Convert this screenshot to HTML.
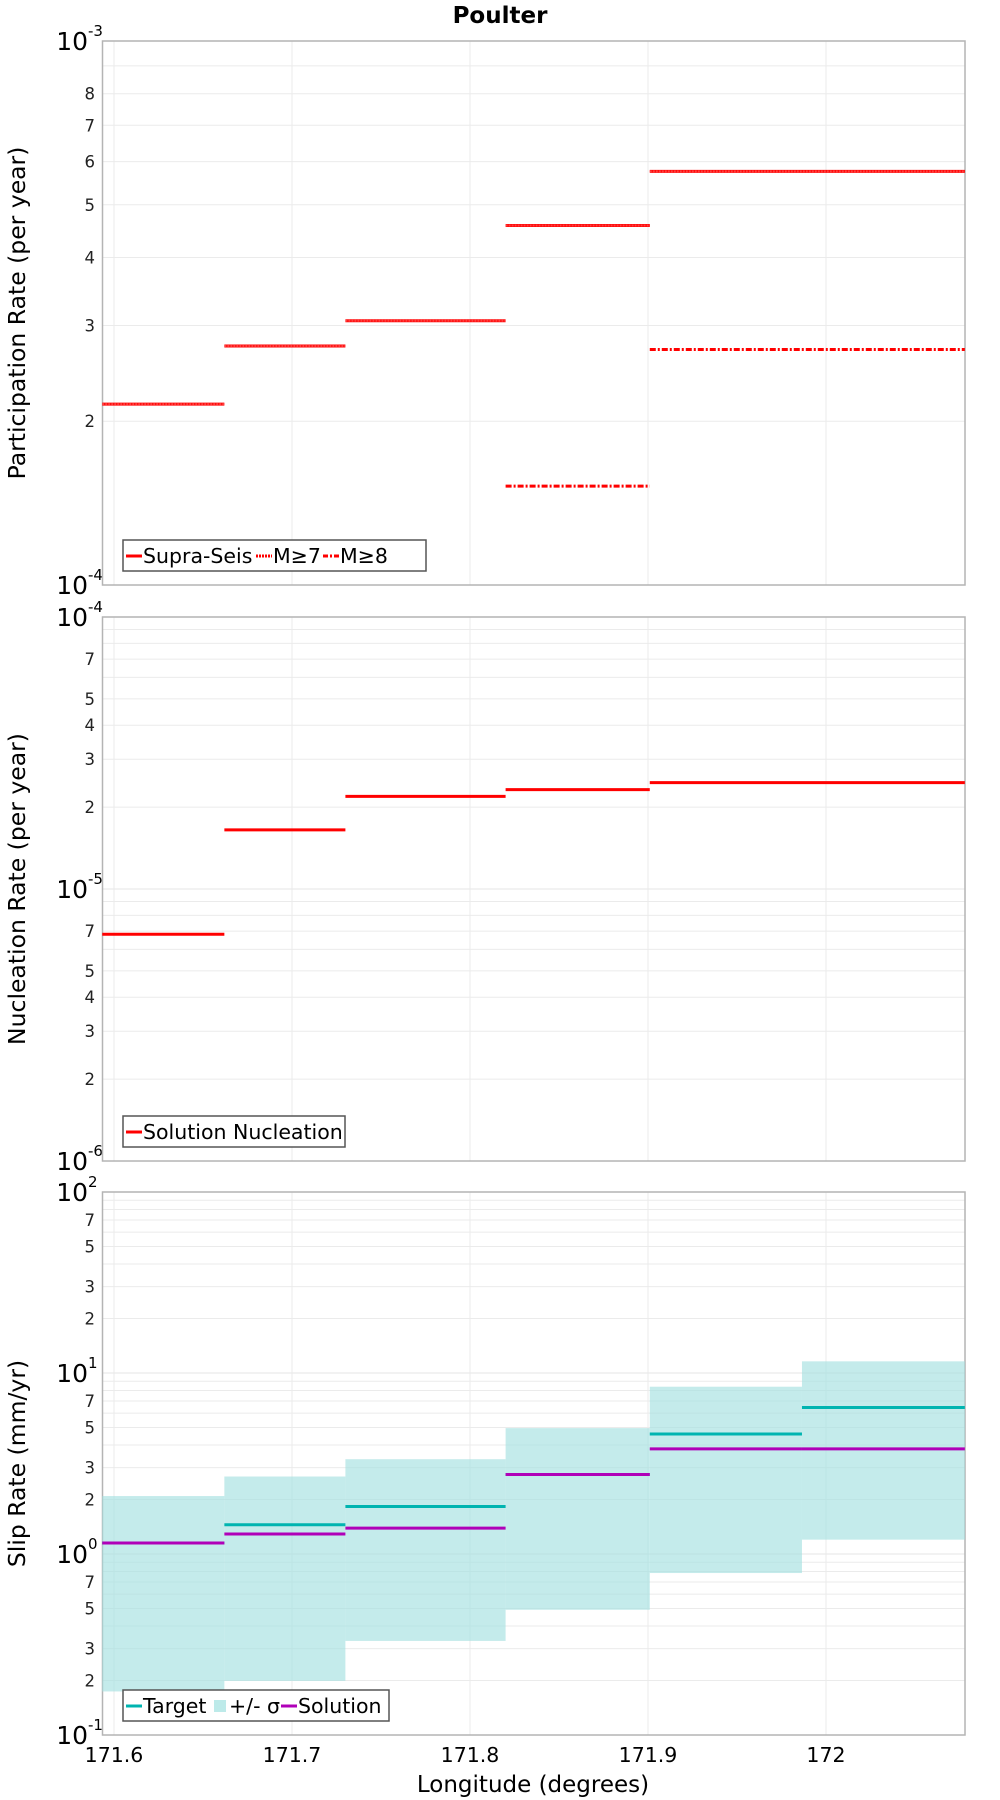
<!DOCTYPE html>
<html><head><meta charset="utf-8"><style>
body{margin:0;background:#fff}
svg{display:block;font-family:"DejaVu Sans","Liberation Sans",sans-serif}
</style></head><body>
<svg id="chart" width="1000" height="1800" viewBox="0 0 1000 1800" xmlns="http://www.w3.org/2000/svg">
<text x="500" y="23" text-anchor="middle" font-size="23" font-weight="bold">Poulter</text>
</svg>
<script>
// ---- data ----
const xEdges = [171.5934, 171.662, 171.730, 171.820, 171.901, 172.078];
const slipEdges = [171.5934, 171.662, 171.730, 171.820, 171.901, 171.9865, 172.078];
const supraSeis = [2.15e-4, 2.75e-4, 3.06e-4, 4.58e-4, 5.76e-4];
const m7 = [2.15e-4, 2.75e-4, 3.06e-4, 4.58e-4, 5.76e-4];
const m8 = [null, null, null, 1.52e-4, 2.71e-4];
const nucleation = [6.82e-6, 1.65e-5, 2.19e-5, 2.32e-5, 2.46e-5];
const slipTarget = [1.15, 1.45, 1.83, 2.75, 4.6, 6.45];
const slipSolution = [1.15, 1.29, 1.39, 2.75, 3.81, 3.81];
const sigmaUpper = [2.09, 2.68, 3.34, 4.96, 8.4, 11.6];
const sigmaLower = [0.174, 0.199, 0.331, 0.492, 0.785, 1.2];
const xTicks = [171.6, 171.7, 171.8, 171.9, 172];
const xTickLabels = ["171.6", "171.7", "171.8", "171.9", "172"];

const NS = "http://www.w3.org/2000/svg";
const svg = document.getElementById('chart');
const L = 102.5, R = 965;
const X0 = 171.6, XPX0 = 114, PXPER = 1780;
function xs(v){ return XPX0 + (v - X0) * PXPER; }
function el(tag, attrs, parent){ const e = document.createElementNS(NS, tag); for (const k in attrs) e.setAttribute(k, attrs[k]); (parent||svg).appendChild(e); return e; }

function panel(top, bottom, eMin, eMax, labelDigits, title, name){
  const g = el('g', {});
  
  
  const ys = v => bottom - (Math.log10(v) - eMin) / (eMax - eMin) * (bottom - top);
  for (let e = eMin; e < eMax; e++) {
    for (let m = 2; m <= 9; m++) {
      const y = ys(m * Math.pow(10, e));
      const gl = el('line', {x1:L, x2:R, y1:y, y2:y, stroke:'#ebebeb', 'stroke-width':1}, g);
      
      
      if (labelDigits.includes(m)) {
        const t = el('text', {x:95, y:y+6, 'text-anchor':'end', 'font-size':16.5, fill:'#222'}, g);
        t.textContent = m;
        
        
      }
    }
  }
  for (let e = eMin; e <= eMax; e++) {
    const y = ys(Math.pow(10, e));
    if (e > eMin && e < eMax) el('line', {x1:L, x2:R, y1:y, y2:y, stroke:'#e4e4e4', 'stroke-width':1}, g);
    const t = el('text', {x:88, y:y+9, 'text-anchor':'end', 'font-size':25, fill:'#000'}, g);
    t.textContent = '10';
    
    
    const s = el('text', {x:88, y:y-5, 'text-anchor':'start', 'font-size':15, fill:'#000'}, g);
    s.textContent = String(e);
    
    
  }
  xTicks.forEach(v => {
    const vl = el('line', {x1:xs(v), x2:xs(v), y1:top, y2:bottom, stroke:'#ebebeb', 'stroke-width':1}, g);
    
    
  });
  const fr = el('rect', {x:L, y:top, width:R-L, height:bottom-top, fill:'none', stroke:'#b4b4b4', 'stroke-width':1.5}, g);
  
  
  const cy = (top + bottom) / 2;
  const tt = el('text', {x:0, y:0, 'text-anchor':'middle', 'font-size':23.5, transform:`translate(25,${cy}) rotate(-90)`}, g);
  tt.textContent = title;
  
  
  return {g, ys};
}

function seg(g, edges, vals, ys, attrs, name){
  vals.forEach((v, i) => {
    if (v == null) return;
    const a = Object.assign({x1:xs(edges[i]), x2:xs(edges[i+1]), y1:ys(v), y2:ys(v), 'stroke-width':3}, attrs);
    const l = el('line', a, g);
    
    
  });
}

function legend(g, x, y, w, items, name){
  const lg = el('g', {}, g);
  
  
  el('rect', {x:x, y:y, width:w, height:31, fill:'#fff', stroke:'#555', 'stroke-width':1.5}, lg);
  let cx = x + 3;
  items.forEach(it => {
    if (it.box) el('rect', {x:cx+1, y:y+10, width:12, height:12, fill:it.color}, lg);
    else el('line', {x1:cx, x2:cx+16, y1:y+16, y2:y+16, stroke:it.color, 'stroke-width':3, 'stroke-dasharray':it.dash||'none'}, lg);
    cx += it.box ? 16 : 17;
    const t = el('text', {x:cx, y:y+23, 'font-size':20.5}, lg);
    t.textContent = it.label;
    
    
    cx += it.w;
  });
}

// Panel 1
const p1 = panel(41, 585, -4, -3, [2,3,4,5,6,7,8], 'Participation Rate (per year)', 'participation-panel');
seg(p1.g, xEdges, supraSeis, p1.ys, {stroke:'#ff0000'}, 'supra-seis-line');
seg(p1.g, xEdges, m7, p1.ys, {stroke:'#ff4040', 'stroke-dasharray':'2,1', 'stroke-width':2}, 'm7-line');
seg(p1.g, xEdges, m8, p1.ys, {stroke:'#ff0000', 'stroke-dasharray':'6,2,2,2'}, 'm8-line');
legend(p1.g, 123, 540, 303, [
  {label:'Supra-Seis', color:'#ff0000', w:113},
  {label:'M≥7', color:'#ff0000', dash:'2,1', w:50},
  {label:'M≥8', color:'#ff0000', dash:'5,2,2,2', w:45}], 'participation-legend');

// Panel 2
const p2 = panel(617, 1161, -6, -4, [2,3,4,5,7], 'Nucleation Rate (per year)', 'nucleation-panel');
seg(p2.g, xEdges, nucleation, p2.ys, {stroke:'#ff0000'}, 'nucleation-line');
legend(p2.g, 123, 1116, 222, [{label:'Solution Nucleation', color:'#ff0000', w:190}], 'nucleation-legend');

// Panel 3
const p3 = panel(1192, 1735, -1, 2, [2,3,5,7], 'Slip Rate (mm/yr)', 'slip-panel');
sigmaUpper.forEach((u, i) => {
  const y1 = p3.ys(u), y2 = p3.ys(sigmaLower[i]);
  const r = el('rect', {x:xs(slipEdges[i]), y:y1, width:xs(slipEdges[i+1])-xs(slipEdges[i]), height:y2-y1, fill:'#a4e1e0', 'fill-opacity':0.65}, p3.g);
  
  
});
seg(p3.g, slipEdges, slipTarget, p3.ys, {stroke:'#00b4b0'}, 'target-line');
seg(p3.g, slipEdges, slipSolution, p3.ys, {stroke:'#b000b8'}, 'solution-line');
legend(p3.g, 123, 1690, 266, [
  {label:'Target', color:'#00b4b0', w:70},
  {label:'+/- σ', color:'#bdeae9', box:true, w:52},
  {label:'Solution', color:'#b000b8', w:80}], 'slip-legend');

xTicks.forEach((v, i) => {
  const t = el('text', {x:xs(v), y:1762, 'text-anchor':'middle', 'font-size':20.5});
  t.textContent = xTickLabels[i];
  
  
});
const xt = el('text', {x:533, y:1792, 'text-anchor':'middle', 'font-size':23});
xt.textContent = 'Longitude (degrees)';


</script>
</body></html>
